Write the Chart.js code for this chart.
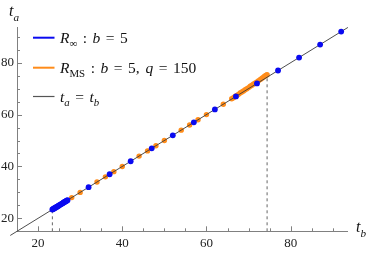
<!DOCTYPE html>
<html><head><meta charset="utf-8">
<script src="https://cdn.jsdelivr.net/npm/chart.js@4/dist/chart.umd.min.js"></script>
<style>html,body{margin:0;padding:0;background:#fff}#wrap{width:374px;height:256px}</style>
</head><body><div id="wrap"><canvas id="c" width="374" height="256"></canvas></div>
<script>
// ---- data ----
const xTickLabels = [20, 40, 60, 80];
const yTickLabels = [20, 40, 60, 80];
const blueX = [23.4,23.6,23.8,24.0,24.2,24.4,24.6,24.8,25.0,25.2,25.4,25.6,25.8,26.0,26.2,26.4,26.6,26.8,27.0,32,37,42,47,52,57,62,67,72,77,82,87,92];
const blueY = [23.4,23.6,23.8,24.0,24.2,24.4,24.6,24.8,25.0,25.2,25.4,25.6,25.8,26.0,26.2,26.4,26.6,26.8,27.0,32,37,42,47,52,57,62,67,72,77,82,87,92];
const orangeX = [24,26,28,30,34,36,38,40,44,46,48,50,54,56,58,60,64,66.0,66.4,66.8,67.2,67.6,68.0,68.4,68.8,69.2,69.6,70.0,70.4,70.8,71.2,71.6,72.0,72.4,72.8,73.2,73.6,73.9,74.2,74.4];
const orangeY = [24,26,28,30,34,36,38,40,44,46,48,50,54,56,58,60,64,66.1,66.5,67.0,67.4,67.8,68.3,68.7,69.1,69.6,70.0,70.4,70.9,71.3,71.8,72.2,72.6,73.1,73.5,74.0,74.5,74.9,75.2,75.4];
const diagX = [13.4, 93.6];
const diagY = [13.4, 93.6];
const dash1X = [23.4, 23.4], dash1Y = [15, 23.4];
const dash2X = [74.4, 74.4], dash2Y = [15, 74.4];
const xMin = 15, xMax = 93.5, yMin = 15, yMax = 93.5;
const minorStep = 5;

const pts = (xs, ys) => xs.map((x, i) => ({x, y: ys[i]}));
const BLUE = '#0a0af0', ORANGE = '#ff8c1a', LINEC = '#3a3a3a', AXC = '#808080';
const SERIF = '"Liberation Serif", "DejaVu Serif", serif';

function drawRich(ctx, x, y, segs, size) {
  let cx = x;
  for (const s of segs) {
    if (s.gap) { cx += s.gap; continue; }
    const fs = s.sub ? size * 0.7 : size;
    ctx.font = (s.it ? 'italic ' : '') + fs + 'px ' + SERIF;
    ctx.fillText(s.t, cx, y + (s.sub ? size * 0.3 : 0));
    cx += ctx.measureText(s.t).width;
  }
}
const G = {gap: 5.5};

const deco = {
  id: 'deco',
  afterDraw(chart) {
    const ctx = chart.ctx, xs = chart.scales.x, ys = chart.scales.y;
    const x0 = xs.getPixelForValue(xMin), y0 = ys.getPixelForValue(yMin);
    ctx.save();
    ctx.strokeStyle = AXC; ctx.lineWidth = 1;
    ctx.beginPath();
    for (let v = 20; v <= xMax; v += minorStep) {
      const p = Math.round(xs.getPixelForValue(v)) + 0.5;
      const L = (v % 20 === 0) ? 5 : 3;
      ctx.moveTo(p, y0); ctx.lineTo(p, y0 - L);
    }
    for (let v = 20; v <= yMax; v += minorStep) {
      const p = Math.round(ys.getPixelForValue(v)) + 0.5;
      const L = (v % 20 === 0) ? 5 : 3;
      ctx.moveTo(x0, p); ctx.lineTo(x0 + L, p);
    }
    ctx.stroke();
    // axis titles
    ctx.fillStyle = '#111'; ctx.textBaseline = 'alphabetic';
    drawRich(ctx, 9, 16, [{t:'t', it:true}, {t:'a', it:true, sub:true}], 16);
    drawRich(ctx, 356, 232, [{t:'t', it:true}, {t:'b', it:true, sub:true}], 16);
    // legend
    const items = [
      {c: BLUE, y: 37.7, segs: [{t:'R', it:true}, {t:'\u221E', sub:true}, G, {t:':'}, G, {t:'b', it:true}, G, {t:'='}, G, {t:'5'}]},
      {c: ORANGE, y: 67.7, segs: [{t:'R', it:true}, {t:'MS', sub:true}, G, {t:':'}, G, {t:'b', it:true}, G, {t:'='}, G, {t:'5,'}, {gap: 6}, {t:'q', it:true}, G, {t:'='}, G, {t:'150'}]},
      {c: '#555', y: 96.5, w: 1.2, segs: [{t:'t', it:true}, {t:'a', it:true, sub:true}, G, {t:'='}, G, {t:'t', it:true}, {t:'b', it:true, sub:true}]}
    ];
    for (const it of items) {
      ctx.strokeStyle = it.c; ctx.lineWidth = it.w || 2;
      ctx.beginPath(); ctx.moveTo(33, it.y); ctx.lineTo(54.5, it.y); ctx.stroke();
      ctx.fillStyle = '#111';
      drawRich(ctx, 60, it.y + 5, it.segs, 15.5);
    }
    ctx.restore();
  }
};

new Chart(document.getElementById('c'), {
  type: 'scatter',
  data: {
    datasets: [
      {label: 'blue', data: pts(blueX, blueY), backgroundColor: BLUE, borderColor: BLUE, pointRadius: 2.9, borderWidth: 0, order: 0},
      {label: 'diag', data: pts(diagX, diagY), showLine: true, borderColor: LINEC, borderWidth: 0.9, pointRadius: 0, clip: false, order: 1},
      {label: 'orange', data: pts(orangeX, orangeY), backgroundColor: ORANGE, borderColor: ORANGE, pointRadius: 2.7, borderWidth: 0, order: 2},
      {label: 'd1', data: pts(dash1X, dash1Y), showLine: true, borderColor: '#666', borderWidth: 1, borderDash: [3, 3], pointRadius: 0, order: 3},
      {label: 'd2', data: pts(dash2X, dash2Y), showLine: true, borderColor: '#666', borderWidth: 1, borderDash: [3, 3], pointRadius: 0, order: 3}
    ]
  },
  options: {
    responsive: false, animation: false, devicePixelRatio: 1,
    layout: {padding: {top: 27.7, right: 26.5, left: 0, bottom: 0}},
    plugins: {legend: {display: false}, tooltip: {enabled: false}},
    scales: {
      x: {
        type: 'linear', min: xMin, max: xMax,
        grid: {display: false, drawTicks: false},
        border: {display: true, color: AXC, width: 1},
        afterBuildTicks: s => { s.ticks = xTickLabels.map(v => ({value: v})); },
        afterFit: s => { s.height = 24.7; },
        ticks: {padding: 4, color: '#222', font: {family: SERIF, size: 13}, maxRotation: 0, autoSkip: false}
      },
      y: {
        type: 'linear', min: yMin, max: yMax,
        grid: {display: false, drawTicks: false},
        border: {display: true, color: AXC, width: 1},
        afterBuildTicks: s => { s.ticks = yTickLabels.map(v => ({value: v})); },
        afterFit: s => { s.width = 17; },
        ticks: {padding: 3, color: '#222', font: {family: SERIF, size: 13}, autoSkip: false}
      }
    }
  },
  plugins: [deco]
});
</script></body></html>
